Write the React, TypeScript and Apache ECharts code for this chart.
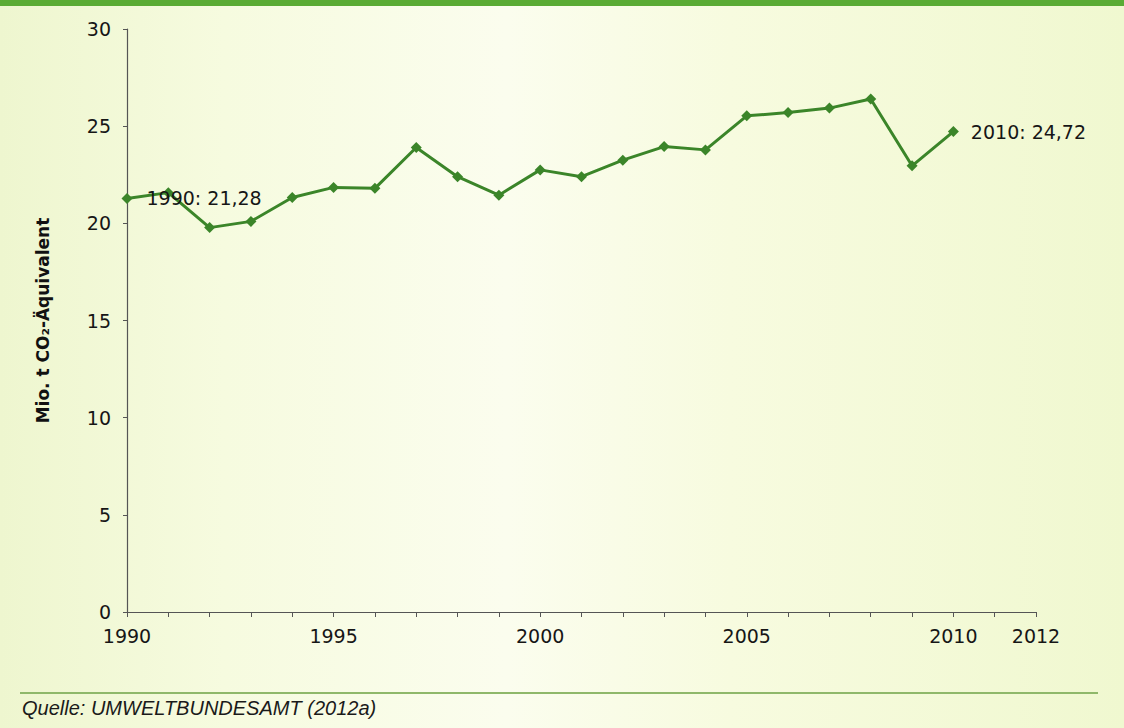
import React, { useEffect, useRef } from "react";
import * as echarts from "echarts";

// Emissions in Mio. t CO2-equivalent, 1990–2010
const years = [
  1990, 1991, 1992, 1993, 1994, 1995, 1996, 1997, 1998, 1999, 2000,
  2001, 2002, 2003, 2004, 2005, 2006, 2007, 2008, 2009, 2010,
];
const emissions = [
  21.28, 21.58, 19.78, 20.1, 21.33, 21.85, 21.8, 23.9, 22.4, 21.45, 22.75,
  22.4, 23.25, 23.95, 23.78, 25.53, 25.7, 25.93, 26.4, 22.96, 24.72,
];
const xLabelYears = [1990, 1995, 2000, 2005, 2010, 2012];
const yTicks = [0, 5, 10, 15, 20, 25, 30];
const labelledYears = [1990, 2010];

const GREEN = "#3b8529";
const FONT = "DejaVu Sans, Verdana, sans-serif";

export default function App() {
  const ref = useRef<HTMLDivElement>(null);

  useEffect(() => {
    if (!ref.current) return;
    const chart = echarts.init(ref.current, null, { renderer: "svg" });

    const data = years.map((yr, i) => {
      const v = emissions[i];
      const item: any = { value: [yr, v] };
      if (labelledYears.includes(yr)) {
        item.label = {
          show: true,
          position: "right",
          distance: yr === 1990 ? 14 : 12,
          formatter: `${yr}: ${v.toFixed(2).replace(".", ",")}`,
          color: "#161616",
          fontFamily: FONT,
          fontSize: 19,
        };
      }
      return item;
    });

    chart.setOption({
      animation: false,
      grid: { left: 127, right: 88, top: 29, bottom: 116 },
      xAxis: {
        type: "value",
        min: 1990,
        max: 2012,
        interval: 1,
        splitLine: { show: false },
        axisLine: { show: true, lineStyle: { color: "#555", width: 1.2 } },
        axisTick: { show: true, length: 5, lineStyle: { color: "#555" } },
        axisLabel: {
          margin: 14,
          color: "#161616",
          fontFamily: FONT,
          fontSize: 19,
          formatter: (v: number) => (xLabelYears.includes(v) ? String(v) : ""),
        },
      },
      yAxis: {
        type: "value",
        min: yTicks[0],
        max: yTicks[yTicks.length - 1],
        interval: 5,
        splitLine: { show: false },
        axisLine: { show: true, lineStyle: { color: "#555", width: 1.2 } },
        axisTick: { show: true, length: 4, lineStyle: { color: "#555" } },
        axisLabel: {
          margin: 16,
          color: "#161616",
          fontFamily: FONT,
          fontSize: 19,
        },
        name: "Mio. t CO₂-Äquivalent",
        nameLocation: "middle",
        nameRotate: 90,
        nameGap: 76,
        nameTextStyle: {
          color: "#111",
          fontFamily: FONT,
          fontWeight: "bold",
          fontSize: 17,
        },
      },
      series: [
        {
          type: "line",
          data,
          symbol: "diamond",
          symbolSize: 11,
          lineStyle: { color: GREEN, width: 3 },
          itemStyle: { color: GREEN },
          label: { show: false },
        },
      ],
      graphic: [
        {
          type: "rect",
          left: 0,
          top: 0,
          shape: { width: 1124, height: 6 },
          style: { fill: "#5aab34" },
          silent: true,
        },
        {
          type: "line",
          shape: { x1: 20, y1: 693, x2: 1098, y2: 693 },
          style: { stroke: "#8fb86a", lineWidth: 2 },
          silent: true,
        },
        {
          type: "text",
          left: 22,
          top: 698,
          style: {
            text: "Quelle: UMWELTBUNDESAMT (2012a)",
            fill: "#1a1a1a",
            font: "italic 20px 'Liberation Sans', Arial, sans-serif",
          },
          silent: true,
        },
      ],
    });

    return () => chart.dispose();
  }, []);

  return (
    <div
      style={{
        position: "fixed",
        left: 0,
        top: 0,
        width: 1124,
        height: 728,
        background:
          "linear-gradient(90deg, #eef6cf 0%, #f6fbdf 20%, #fbfdee 45%, #f7fbdf 65%, #f0f8d0 100%)",
      }}
    >
      <div ref={ref} style={{ width: 1124, height: 728 }} />
    </div>
  );
}
